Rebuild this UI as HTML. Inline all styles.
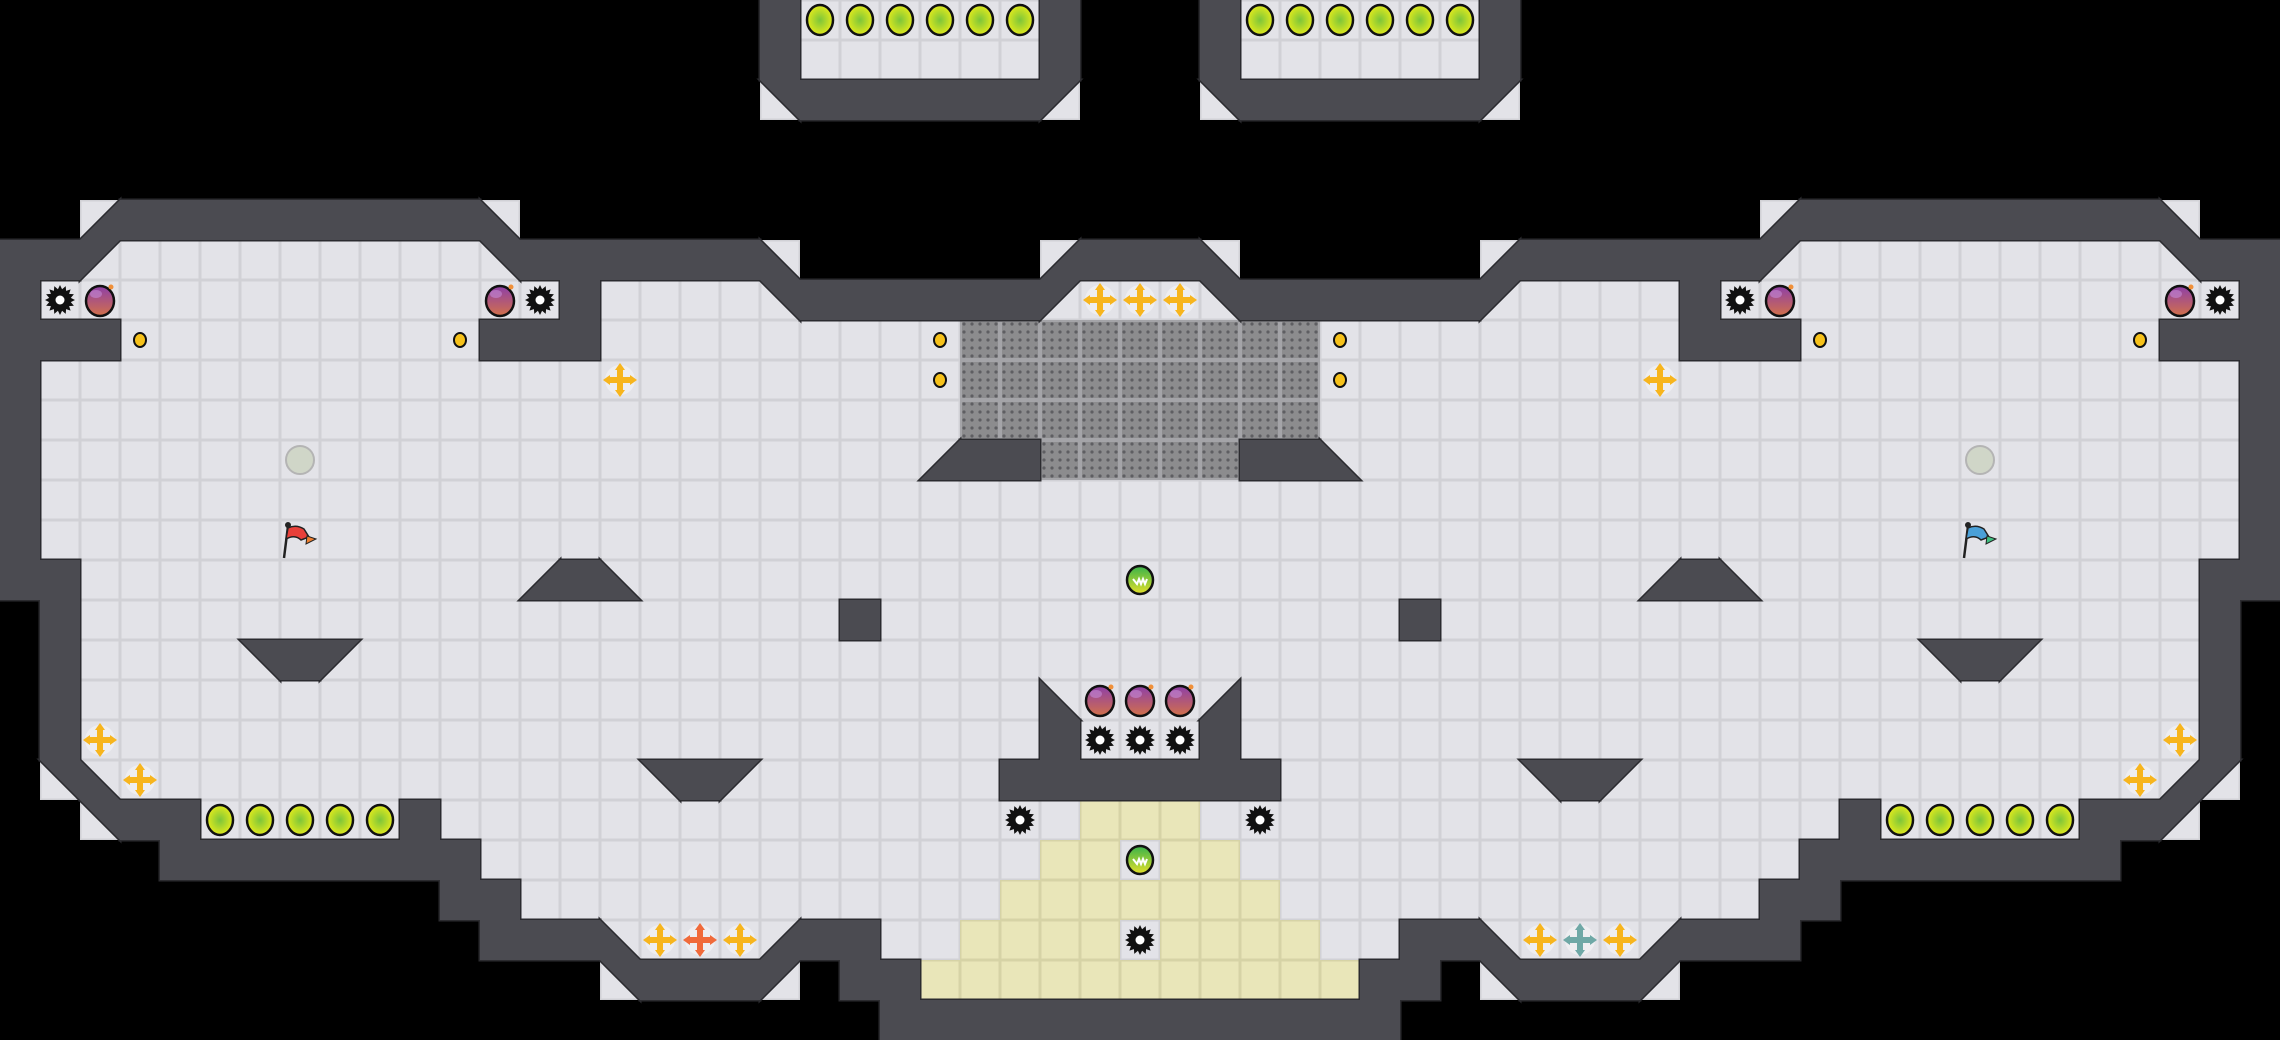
<!DOCTYPE html>
<html><head><meta charset="utf-8"><style>
html,body{margin:0;padding:0;background:#000;width:2280px;height:1040px;overflow:hidden}
svg{display:block}
</style></head><body>
<svg id="m" xmlns="http://www.w3.org/2000/svg" width="2280" height="1040" viewBox="0 0 2280 1040">
<defs>
<pattern id="dots" width="8" height="8" patternUnits="userSpaceOnUse"><rect width="8" height="8" fill="#8c8c8e"/><circle cx="4" cy="4" r="1.6" fill="#5e5e62"/></pattern>
<radialGradient id="gb" cx="50%" cy="50%" r="50%"><stop offset="0" stop-color="#7cc53a"/><stop offset="1" stop-color="#e2ea1c"/></radialGradient>
<linearGradient id="bomb" x1="0" y1="0" x2="0" y2="1"><stop offset="0" stop-color="#8e3fa8"/><stop offset="1" stop-color="#d2704a"/></linearGradient>
<linearGradient id="gem" x1="0" y1="0" x2="0" y2="1"><stop offset="0" stop-color="#39b24a"/><stop offset="1" stop-color="#e3e02a"/></linearGradient>
</defs>
<g id="floor"></g><g id="wstroke"></g><g id="wfill"></g><g id="items"></g>
</svg>
<script>
var L=[
"                   #......#  ",
"                   #......#  ",
"                   b######a  ",
"                             ",
"                             ",
"  d#########c                ",
"##a.........b######c      d##",
"#.............#....b######a..",
"###.........###.........ggggg",
"#.......................ggggg",
"#.......................ggggg",
"#......................d##ggg",
"#............................",
"#............................",
"##...........d#c.............",
" #...................#.......",
" #....b#a....................",
" #........................c..",
" #........................#..",
" bc.............b#a......####",
"  b##.....#................yy",
"    ########..............yy.",
"           ##............yyyy",
"            ###c...d##..yyyy.",
"               b###a ##yyyyyy",
"                      #######"];
var mir={a:'b',b:'a',c:'d',d:'c'};
var G=[];
for(var r=0;r<26;r++){var s=L[r],row=s.split('');for(var c=27;c>=0;c--){var ch=s[c];row.push(mir[ch]||ch);}G.push(row);}
var NS="http://www.w3.org/2000/svg";
function el(p,t,a){var e=document.createElementNS(NS,t);for(var k in a)e.setAttribute(k,a[k]);p.appendChild(e);return e;}
var F=document.getElementById('floor'),WS=document.getElementById('wstroke'),WF=document.getElementById('wfill'),I=document.getElementById('items');
var T=40;
function wallPts(ch,x,y){
 if(ch=='#')return [[x,y],[x+T,y],[x+T,y+T],[x,y+T]];
 if(ch=='a')return [[x,y],[x+T,y],[x,y+T]];
 if(ch=='b')return [[x,y],[x+T,y],[x+T,y+T]];
 if(ch=='c')return [[x,y],[x+T,y+T],[x,y+T]];
 if(ch=='d')return [[x+T,y],[x+T,y+T],[x,y+T]];
}
for(var r=0;r<26;r++)for(var c=0;c<57;c++){
 var ch=G[r][c],x=c*T,y=r*T;
 if(ch==' ')continue;
 var fc='#e3e3e8';
 if(ch=='y')fc='#e9e6b9';
 if(ch=='g'){el(F,'rect',{x:x,y:y,width:T,height:T,fill:'#a4a4a8'});el(F,'rect',{x:x+2,y:y+2,width:T-4,height:T-4,fill:'url(#dots)'});continue;}
 el(F,'rect',{x:x,y:y,width:T,height:T,fill:ch=='y'?'#d6d3a6':'#d1d1d6'});
 el(F,'rect',{x:x+1.5,y:y+1.5,width:T-3,height:T-3,fill:fc});
 if('#abcd'.indexOf(ch)>=0){
  var p=wallPts(ch,x,y).map(function(q){return q.join(',')}).join(' ');
  el(WS,'polygon',{points:p,fill:'#2b2b2f',stroke:'#2b2b2f','stroke-width':3,'stroke-linejoin':'miter'});
  el(WF,'polygon',{points:p,fill:'#4b4b51'});
 }
}
function cx(c){return c*T+20}
function spike(c,r){var x=cx(c),y=cx(r),pts=[];for(var i=0;i<32;i++){var rr=i%2?11:15,a=i*Math.PI/16;pts.push((x+rr*Math.cos(a)).toFixed(1)+','+(y+rr*Math.sin(a)).toFixed(1));}
 el(I,'polygon',{points:pts.join(' '),fill:'#111'});el(I,'circle',{cx:x,cy:y,r:4.5,fill:'#fff'});}
function bomb(c,r){var x=cx(c),y=cx(r);el(I,'ellipse',{cx:x,cy:y+1,rx:14,ry:15,fill:'url(#bomb)',stroke:'#111','stroke-width':2.5});
 el(I,'ellipse',{cx:x-4,cy:y-6,rx:6,ry:4,fill:'#c58ad6',opacity:.6});el(I,'circle',{cx:x+11,cy:y-13,r:2.5,fill:'#f0903a'});}
function coin(c,r){el(I,'ellipse',{cx:cx(c),cy:cx(r),rx:6,ry:7,fill:'#f7c21a',stroke:'#111','stroke-width':2});}
function boost(c,r,col){var x=cx(c),y=cx(r);col=col||'#f7b51e';
 el(I,'circle',{cx:x,cy:y,r:15,fill:'#f0f0f2',opacity:.8});
 el(I,'rect',{x:x-3,y:y-13,width:6,height:26,fill:col});el(I,'rect',{x:x-13,y:y-3,width:26,height:6,fill:col});
 el(I,'polygon',{points:(x)+','+(y-17)+' '+(x-5)+','+(y-10)+' '+(x+5)+','+(y-10),fill:col});
 el(I,'polygon',{points:(x)+','+(y+17)+' '+(x-5)+','+(y+10)+' '+(x+5)+','+(y+10),fill:col});
 el(I,'polygon',{points:(x-17)+','+(y)+' '+(x-10)+','+(y-5)+' '+(x-10)+','+(y+5),fill:col});
 el(I,'polygon',{points:(x+17)+','+(y)+' '+(x+10)+','+(y-5)+' '+(x+10)+','+(y+5),fill:col});}
function gball(c,r){el(I,'ellipse',{cx:cx(c),cy:cx(r),rx:13,ry:15,fill:'url(#gb)',stroke:'#111','stroke-width':2.5});}
function gem(c,r){var x=cx(c),y=cx(r);el(I,'ellipse',{cx:x,cy:y,rx:13,ry:14,fill:'url(#gem)',stroke:'#111','stroke-width':2.5});
 el(I,'path',{d:'M'+(x-7)+' '+(y-1)+' l4 5 l2-5 l2 5 l2-5 l2 5 l2-5',fill:'none',stroke:'#fff','stroke-width':2});}
function ghost(c,r){el(I,'circle',{cx:cx(c),cy:cx(r),r:14,fill:'#d0d6c8',stroke:'#b4b4b4','stroke-width':2});}
function flag(c,r,col,tail){var x=c*T,y=r*T;el(I,'line',{x1:x+4,y1:y+38,x2:x+8,y2:y+6,stroke:'#222','stroke-width':2.5});
 el(I,'circle',{cx:x+8,cy:y+5,r:3,fill:'#222'});
 el(I,'path',{d:'M'+(x+8)+' '+(y+8)+' q8 -4 16 1 l5 8 l-8 3 q-6 -6 -15 -1 z',fill:col,stroke:'#222','stroke-width':1.5});
 el(I,'path',{d:'M'+(x+27)+' '+(y+16)+' l9 3 l-10 5 z',fill:tail,stroke:'#222','stroke-width':1});}
var sp=[[1,7],[13,7],[27,18],[28,18],[29,18],[25,20],[31,20],[28,23],[55,7],[43,7]];sp.forEach(function(p){spike(p[0],p[1])});
var bo=[[2,7],[12,7],[27,17],[28,17],[29,17],[54,7],[44,7]];bo.forEach(function(p){bomb(p[0],p[1])});
var co=[[3,8],[11,8],[23,8],[23,9],[53,8],[45,8],[33,8],[33,9]];co.forEach(function(p){coin(p[0],p[1])});
var bs=[[15,9],[2,18],[3,19],[16,23],[18,23],[27,7],[28,7],[29,7],[41,9],[54,18],[53,19],[38,23],[40,23]];bs.forEach(function(p){boost(p[0],p[1])});
boost(17,23,'#f06a3a');boost(39,23,'#6fa8a6');
for(var i=20;i<=25;i++)gball(i,0);for(var i=31;i<=36;i++)gball(i,0);
for(var i=5;i<=9;i++)gball(i,20);for(var i=47;i<=51;i++)gball(i,20);
gem(28,14);gem(28,21);ghost(7,11);ghost(49,11);
flag(7,13,'#e8403a','#f08030');flag(49,13,'#4aa0d8','#3fc080');
</script>
</body></html>
